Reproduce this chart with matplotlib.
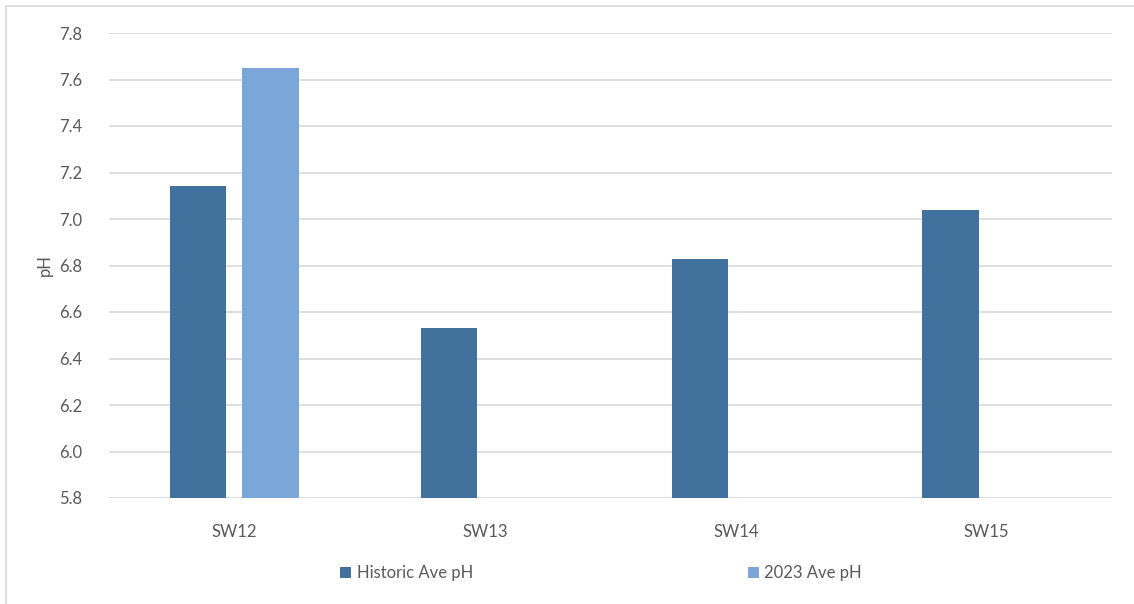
import numpy as np
import matplotlib
matplotlib.use("Agg")
import matplotlib.pyplot as plt
from matplotlib.patches import Rectangle

sites = ["SW12", "SW13", "SW14", "SW15"]
historic_ph = [7.14, 6.53, 6.83, 7.04]
ph_2023 = [7.65, np.nan, np.nan, np.nan]
y_ticks = [5.8, 6.0, 6.2, 6.4, 6.6, 6.8, 7.0, 7.2, 7.4, 7.6, 7.8]

plt.rcParams["font.family"] = ["Lato", "DejaVu Sans"]
text_grey = "#595959"
fs = 12

fig = plt.figure(figsize=(11.34, 6.04), dpi=100)
ax = fig.add_axes([109 / 1134, 1 - 498 / 604, (1112 - 109) / 1134, (498 - 33) / 604])

x = np.arange(len(sites))
w = 0.224
off = 0.144
base = 5.8
ax.bar(x - off, np.array(historic_ph) - base, w, bottom=base,
       color="#41719C", label="Historic Ave pH", zorder=3)
ax.bar(x + off, np.array(ph_2023) - base, w, bottom=base,
       color="#7BA7D8", label="2023 Ave pH", zorder=3)

ax.set_xlim(-0.5, len(sites) - 0.5)
ax.set_ylim(5.8, 7.8)
ax.set_yticks(y_ticks)
ax.set_yticklabels([f"{v:.1f}" for v in y_ticks])
ax.set_xticks(x)
ax.set_xticklabels(sites)
ax.tick_params(axis="both", length=0, labelsize=fs, colors=text_grey)
ax.tick_params(axis="y", pad=19)
ax.tick_params(axis="x", pad=19)
ax.grid(axis="y", color="#D9D9D9", linewidth=1.2, zorder=0)
for s in ax.spines.values():
    s.set_visible(False)
ax.set_ylabel("pH", fontsize=fs, color=text_grey, labelpad=5)

leg = fig.legend(loc="center", bbox_to_anchor=(601 / 1134, 1 - 573 / 604), ncol=2,
                 frameon=False, fontsize=fs, handlelength=0.65, handleheight=0.65,
                 handletextpad=0.35, columnspacing=16.5)
for t in leg.get_texts():
    t.set_color(text_grey)

fig.patches.append(Rectangle((6 / 1134, -0.05), 1.2, 1.05 - 6 / 604,
                             transform=fig.transFigure, fill=False,
                             edgecolor="#D9D9D9", linewidth=1.2))

fig.savefig("out.png", dpi=100)
